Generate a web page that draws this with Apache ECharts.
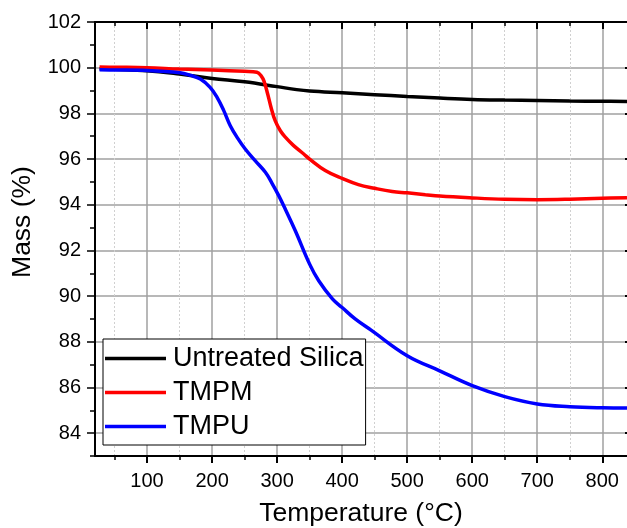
<!DOCTYPE html>
<html>
<head>
<meta charset="utf-8">
<script src="https://cdn.jsdelivr.net/npm/echarts@6/dist/echarts.min.js"></script>
<style>
html,body{margin:0;padding:0;background:#fff;}
#chart{width:627px;height:528px;}
</style>
</head>
<body>
<div id="chart"></div>
<script>
var seriesNames = ['Untreated Silica', 'TMPM', 'TMPU'];

var silicaT = [27, 50, 100, 150, 200, 250, 300, 330, 350, 400, 450, 500, 550, 600, 650, 700, 750, 800, 838];
var silicaV = [99.95, 99.93, 99.87, 99.72, 99.53, 99.38, 99.17, 99.04, 98.98, 98.90, 98.82, 98.74, 98.67, 98.61, 98.58, 98.56, 98.54, 98.53, 98.52];

var tmpmT = [27, 50, 100, 150, 200, 250, 269, 276, 280, 285.5, 290.7, 297, 305, 313, 325, 341, 350, 374, 400, 425, 450, 477, 500, 528, 550, 600, 650, 700, 750, 800, 838];
var tmpmV = [100.03, 100.02, 100.0, 99.94, 99.9, 99.84, 99.8, 99.62, 99.4, 98.85, 98.26, 97.68, 97.24, 96.95, 96.6, 96.22, 96.0, 95.5, 95.15, 94.88, 94.72, 94.58, 94.52, 94.44, 94.38, 94.3, 94.24, 94.22, 94.24, 94.28, 94.31];

var tmpuT = [27, 50, 100, 151, 167, 182, 197, 207.7, 218, 228, 238.5, 251, 266.6, 282, 292, 302.5, 313, 328, 350, 364, 385, 400, 420, 444, 500, 550, 600, 650, 700, 750, 800, 838];
var tmpuV = [99.91, 99.9, 99.88, 99.78, 99.66, 99.5, 99.14, 98.7, 98.12, 97.46, 96.95, 96.44, 95.92, 95.42, 94.95, 94.4, 93.78, 92.86, 91.4, 90.67, 89.88, 89.5, 89.0, 88.52, 87.39, 86.73, 86.08, 85.6, 85.28, 85.16, 85.11, 85.1];

var xMajorTicks = [100, 200, 300, 400, 500, 600, 700, 800];
var xMinorTicks = [50, 150, 250, 350, 450, 550, 650, 750];
var yMajorTicks = [84, 86, 88, 90, 92, 94, 96, 98, 100, 102];
var yMinorTicks = [83, 85, 87, 89, 91, 93, 95, 97, 99, 101];

function pairs(t, v) { return t.map(function (x, i) { return [x, v[i]]; }); }

var FONT = 'Liberation Sans';
var chart = echarts.init(document.getElementById('chart'), null, {renderer: 'canvas'});

var xMin = 20, xMax = 838, yMin = 83, yMax = 102;

var option = {
  animation: false,
  backgroundColor: '#fff',
  textStyle: {fontFamily: FONT},
  grid: {left: 95, top: 22, right: 0, bottom: 72, containLabel: false, outerBoundsMode: 'none'},
  legend: {
    orient: 'vertical',
    left: 103, top: 339,
    data: seriesNames,
    icon: 'rect',
    itemWidth: 61, itemHeight: 3.5, itemGap: 7,
    padding: [6, 2, 5, 2],
    borderColor: '#000', borderWidth: 1,
    backgroundColor: '#fff',
    textStyle: {fontSize: 27, color: '#000', fontFamily: FONT, lineHeight: 26, padding: [0, 0, 0, 2]}
  },
  graphic: [{
    type: 'text', x: 23, y: 222, rotation: Math.PI / 2,
    style: {text: 'Mass (%)', fontSize: 26.5, fontFamily: FONT, fill: '#000', align: 'center', verticalAlign: 'middle'}
  }],
  xAxis: [
    {
      type: 'value', min: xMin, max: xMax, position: 'bottom', gridIndex: 0,
      name: 'Temperature (°C)', nameLocation: 'middle', nameGap: 44,
      nameTextStyle: {fontSize: 26.5, color: '#000', fontFamily: FONT},
      axisLine: {show: true, onZero: false, lineStyle: {color: '#000', width: 2}},
      axisTick: {show: true, inside: false, length: 7, customValues: xMajorTicks, lineStyle: {color: '#000', width: 2}},
      axisLabel: {customValues: xMajorTicks, fontSize: 20, color: '#000', margin: 15, fontFamily: FONT},
      splitLine: {show: true, lineStyle: {color: '#a0a0a0', width: 1.5}}
    },
    {
      type: 'value', min: xMin, max: xMax, position: 'bottom', gridIndex: 0,
      axisLine: {show: false, onZero: false},
      axisTick: {show: true, inside: false, length: 4, customValues: xMinorTicks, lineStyle: {color: '#000', width: 1.5}},
      axisLabel: {show: false},
      splitLine: {show: true, lineStyle: {color: '#d0d0d0', width: 1, type: [2, 2]}}
    },
    {
      type: 'value', min: xMin, max: xMax, position: 'top', gridIndex: 0,
      axisLine: {show: true, onZero: false, lineStyle: {color: '#000', width: 2}},
      axisTick: {show: true, inside: true, length: 7, customValues: xMajorTicks, lineStyle: {color: '#000', width: 2}},
      axisLabel: {show: false},
      splitLine: {show: false}
    },
    {
      type: 'value', min: xMin, max: xMax, position: 'top', gridIndex: 0,
      axisLine: {show: false, onZero: false},
      axisTick: {show: true, inside: true, length: 4, customValues: xMinorTicks, lineStyle: {color: '#000', width: 1.5}},
      axisLabel: {show: false},
      splitLine: {show: false}
    }
  ],
  yAxis: [
    {
      type: 'value', min: yMin, max: yMax, position: 'left',
      axisLine: {show: true, onZero: false, lineStyle: {color: '#000', width: 2}},
      axisTick: {show: true, inside: false, length: 8, customValues: yMajorTicks, lineStyle: {color: '#000', width: 1.5}},
      axisLabel: {customValues: yMajorTicks, fontSize: 20, color: '#000', margin: 14, fontFamily: FONT},
      splitLine: {show: true, lineStyle: {color: '#a0a0a0', width: 1.5}}
    },
    {
      type: 'value', min: yMin, max: yMax, position: 'left',
      axisLine: {show: false, onZero: false},
      axisTick: {show: true, inside: false, length: 5, customValues: yMinorTicks, lineStyle: {color: '#000', width: 1.5}},
      axisLabel: {show: false},
      splitLine: {show: false}
    },
    {
      type: 'value', min: yMin, max: yMax, position: 'right',
      axisLine: {show: false, onZero: false},
      axisTick: {show: true, inside: true, length: 2, customValues: yMajorTicks, lineStyle: {color: '#000', width: 2}},
      axisLabel: {show: false},
      splitLine: {show: false}
    }
  ],
  series: [
    {
      name: seriesNames[0], type: 'line', xAxisIndex: 0, yAxisIndex: 0,
      data: pairs(silicaT, silicaV), symbol: 'none', smooth: 0.4,
      lineStyle: {color: '#000000', width: 3.5}, itemStyle: {color: '#000000'}, z: 3
    },
    {
      name: seriesNames[1], type: 'line', xAxisIndex: 0, yAxisIndex: 0,
      data: pairs(tmpmT, tmpmV), symbol: 'none', smooth: 0.4,
      lineStyle: {color: '#ff0000', width: 3.5}, itemStyle: {color: '#ff0000'}, z: 4
    },
    {
      name: seriesNames[2], type: 'line', xAxisIndex: 0, yAxisIndex: 0,
      data: pairs(tmpuT, tmpuV), symbol: 'none', smooth: 0.4,
      lineStyle: {color: '#0000ff', width: 3.5}, itemStyle: {color: '#0000ff'}, z: 5
    }
  ]
};
chart.setOption(option);
</script>
</body>
</html>
